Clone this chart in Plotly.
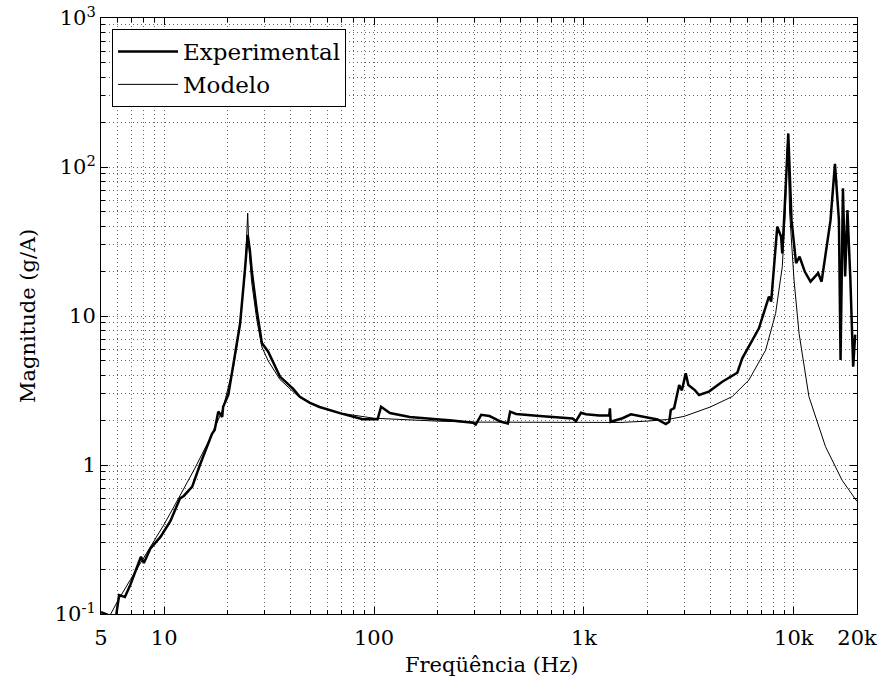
import numpy as np
import plotly.graph_objects as go

# Experimental measurement (frequency Hz, magnitude g/A)
exp_freq = [5.0, 5.55, 5.9, 6.1, 6.5, 6.9, 7.75, 8.0, 8.6, 9.6, 10.7, 11.9, 12.4, 13.6,
            14.8, 16.0, 16.9, 17.4, 18.1, 18.5, 18.9, 19.1, 20.2, 21.4, 23.0, 24.3, 24.7, 25.0,
            25.6, 26.1, 27.6, 29.2, 31.3, 35.6, 41.2, 44.3, 49.5, 55.0, 68.7, 88.3, 104, 108,
            119, 148, 205, 229, 296, 305, 324, 355, 403, 434, 445, 475, 614, 883, 916,
            968, 1023, 1183, 1320, 1330, 1340, 1528, 1674, 1973, 2240, 2455, 2550, 2593,
            2690, 2843, 2930, 3055, 3145, 3385, 3535, 3940, 4325, 4560, 5380, 5680, 6820,
            7610, 7800, 7960, 8340, 8700, 8810, 9020, 9410, 9750, 10250, 10650, 11290,
            12010, 13060, 13560, 14420, 14960, 15700, 16400, 16700, 17140, 17560, 18010,
            18600, 19180, 19600]
exp_mag = [0.103, 0.097, 0.097, 0.134, 0.130, 0.157, 0.242, 0.22, 0.275, 0.329, 0.42, 0.597,
           0.62, 0.715, 1.0, 1.32, 1.62, 1.72, 2.28, 2.2, 2.1, 2.46, 2.95, 4.8, 8.9, 21.0,
           30.0, 35.0, 27.7, 20.4, 11.0, 6.6, 5.76, 3.92, 3.24, 2.87, 2.61, 2.45, 2.23, 2.03,
           2.03, 2.46, 2.23, 2.10, 2.02, 2.00, 1.92, 1.87, 2.17, 2.13, 1.95, 1.90, 2.28,
           2.20, 2.13, 2.05, 1.97, 2.24, 2.19, 2.15, 2.15, 2.40, 1.95, 2.06, 2.19, 2.09,
           2.02, 1.88, 1.95, 2.34, 2.41, 3.44, 3.17, 4.12, 3.44, 3.17, 2.95, 3.11, 3.44,
           3.62, 4.16, 5.2, 8.27, 13.5, 12.5, 17.5, 39.8, 34.0, 26.3, 48.9, 168, 44,
           22.6, 25.0, 19.8, 17.0, 19.4, 17.0, 31.6, 44, 105, 44, 5.07, 72, 18.4, 51.5,
           17.4, 4.57, 7.5]

# Model curve
mod_freq = [5.3, 5.55, 6.0, 6.9, 8.6, 10.0, 11.8, 14.0, 16.5, 19.0, 21.4, 23.0, 24.3, 24.8,
            25.0, 25.3, 25.8, 26.1, 27.6, 29.2, 31.3, 35.6, 44.0, 50, 60, 70, 100, 150,
            200, 300, 500, 1000, 1500, 2000, 2500, 3000, 3535, 4000, 5090, 6110, 7340,
            8190, 8810, 9100, 9350, 9550, 10020, 10590, 11800, 14150, 16980, 20000]
mod_mag = [0.088, 0.1, 0.122, 0.17, 0.285, 0.40, 0.61, 0.95, 1.5, 2.35, 4.6, 8.7, 20,
           35, 49, 30, 20, 17, 9.5, 6.2, 5.0, 3.75, 2.85, 2.6, 2.35, 2.22, 2.06, 2.0,
           1.97, 1.94, 1.93, 1.92, 1.93, 1.97, 2.02, 2.12, 2.3, 2.45, 2.88, 3.72, 5.9,
           10.4, 21.4, 50, 160, 50, 17.5, 7.65, 2.88, 1.33, 0.79, 0.57]

x_tickvals = [5, 10, 100, 1000, 10000, 20000]
x_ticktext = ["5", "10", "100", "1k", "10k", "20k"]
y_tickvals = [0.1, 1, 10, 100, 1000]
y_ticktext = ["10<sup>-1</sup>", "1", "10", "10<sup>2</sup>", "10<sup>3</sup>"]

x_minor = [m * 10 ** k for k in range(0, 5) for m in range(1, 10)]
y_minor = [m * 10.0 ** k for k in range(-1, 3) for m in range(1, 10)]

FONT = "DejaVu Serif"
FS = 21
grid = dict(gridcolor="#666666", gridwidth=1, griddash="1px,3px")

fig = go.Figure()
fig.add_trace(go.Scatter(x=exp_freq, y=exp_mag, mode="lines", name="Experimental",
                         line=dict(color="black", width=2.5)))
fig.add_trace(go.Scatter(x=mod_freq, y=mod_mag, mode="lines", name="Modelo",
                         line=dict(color="black", width=1)))

fig.update_xaxes(type="log", range=[np.log10(5), np.log10(20000)],
                 tickmode="array", tickvals=x_tickvals, ticktext=x_ticktext,
                 ticks="inside", ticklen=7, tickcolor="black", ticklabelstandoff=5,
                 showline=True, linecolor="black", linewidth=1, mirror="allticks",
                 showgrid=True, **grid,
                 minor=dict(tickmode="array", tickvals=x_minor, ticks="inside", ticklen=4,
                            tickcolor="black", showgrid=True, **grid),
                 tickfont=dict(family=FONT, size=FS, color="black"), zeroline=False)
fig.update_yaxes(type="log", range=[-1, 3],
                 tickmode="array", tickvals=y_tickvals, ticktext=y_ticktext,
                 ticks="inside", ticklen=7, tickcolor="black",
                 showline=True, linecolor="black", linewidth=1, mirror="allticks",
                 showgrid=True, **grid,
                 minor=dict(tickmode="array", tickvals=y_minor, ticks="inside", ticklen=4,
                            tickcolor="black", showgrid=True, **grid),
                 tickfont=dict(family=FONT, size=FS, color="black"), zeroline=False)

fig.update_layout(
    width=881, height=691,
    margin=dict(l=101, r=24, t=18, b=77, autoexpand=False),
    paper_bgcolor="white", plot_bgcolor="white",
    font=dict(family=FONT, size=FS, color="black"),
    showlegend=True,
    legend=dict(x=0.0146, y=0.9815, xanchor="left", yanchor="top",
                bgcolor="white", bordercolor="black", borderwidth=1,
                font=dict(family=FONT, size=23, color="black"),
                tracegroupgap=0, itemwidth=60),
    annotations=[
        dict(text="Freqüência (Hz)", xref="paper", yref="paper", x=0.517, y=-0.0856,
             xanchor="center", yanchor="middle", showarrow=False,
             font=dict(family=FONT, size=FS, color="black")),
        dict(text="Magnitude (g/A)", xref="paper", yref="paper", x=-0.0966, y=0.5,
             xanchor="center", yanchor="middle", showarrow=False, textangle=-90,
             font=dict(family=FONT, size=FS, color="black")),
    ],
)

fig.write_html("out.html")
